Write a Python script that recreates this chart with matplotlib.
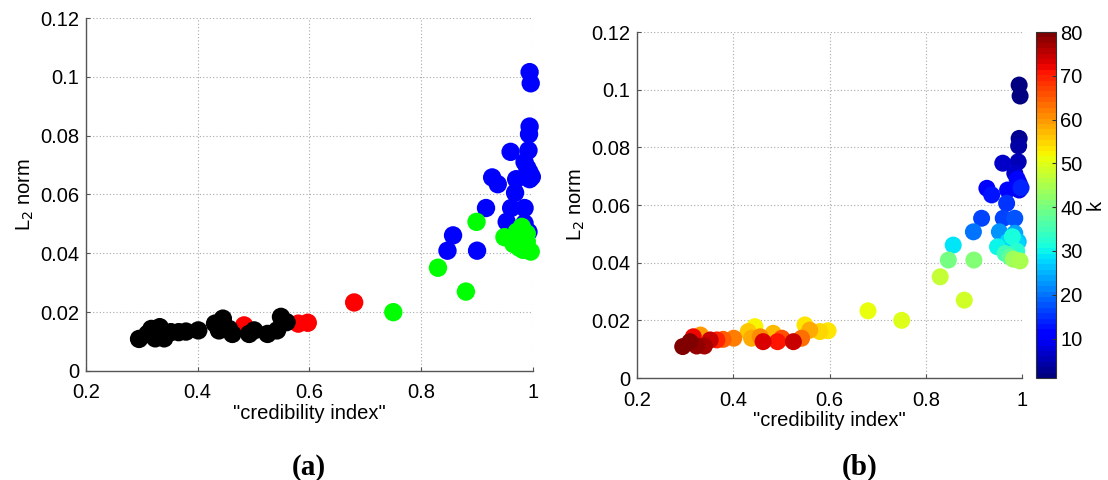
import numpy as np
import matplotlib
import matplotlib.pyplot as plt
from matplotlib.ticker import FuncFormatter

plt.rcParams['font.family'] = ['Liberation Sans', 'DejaVu Sans']

# number of clusters k, credibility index and L2 norm of each solution
k_vals = [1, 2, 3, 4, 5, 6, 7, 8, 9, 10, 11, 12, 13, 14, 15, 16, 17, 18,
          20, 22, 24, 26, 27, 28, 29, 30, 31, 33, 35, 37, 40, 41, 44, 45,
          47, 48, 50, 51, 52, 53, 54, 55, 56, 57, 58, 59, 60, 61, 62, 63,
          65, 66, 70, 71, 72, 73, 74, 75, 77, 78, 79, 80]
cred = [0.994, 0.996, 0.994, 0.993, 0.992, 0.960, 0.985, 0.994, 0.994, 0.927,
        0.990, 0.970, 0.937, 0.998, 0.968, 0.961, 0.916, 0.985,
        0.899, 0.953, 0.985, 0.992, 0.971, 0.989, 0.857, 0.949, 0.980, 0.989,
        0.965, 0.975, 0.847, 0.900, 0.982, 0.996,
        0.830, 0.880, 0.750, 0.680, 0.445, 0.549, 0.597, 0.580, 0.431, 0.483,
        0.559, 0.438, 0.332, 0.456, 0.401, 0.542,
        0.379, 0.501, 0.366, 0.492, 0.317, 0.462, 0.352, 0.525, 0.340, 0.324,
        0.310, 0.295]
l2 = [0.1016, 0.0978, 0.0831, 0.0805, 0.0750, 0.0745, 0.0710, 0.0675, 0.0652, 0.0658,
      0.0690, 0.0652, 0.0635, 0.0660, 0.0606, 0.0554, 0.0554, 0.0554,
      0.0507, 0.0507, 0.0502, 0.0473, 0.0473, 0.0467, 0.0461, 0.0455, 0.0490, 0.0440,
      0.0432, 0.0420, 0.0409, 0.0409, 0.0412, 0.0406,
      0.0351, 0.0270, 0.0200, 0.0233, 0.0178, 0.0184, 0.0164, 0.0161, 0.0161, 0.0155,
      0.0166, 0.0138, 0.0149, 0.0143, 0.0138, 0.0138,
      0.0134, 0.0138, 0.0132, 0.0126, 0.0143, 0.0126, 0.0132, 0.0126, 0.0111, 0.0111,
      0.0126, 0.0109]
# cluster label of each solution (0 black, 1 red, 2 green, 3 blue)
group = [3, 3, 3, 3, 3, 3, 3, 3, 3, 3, 3, 3, 3, 3, 3, 3, 3, 3,
         2, 3, 3, 3, 2, 2, 3, 2, 2, 2, 2, 2, 3, 3, 2, 2,
         2, 2, 2, 1, 0, 0, 1, 1, 0, 1, 0, 0, 0, 0, 0, 0,
         0, 0, 0, 0, 0, 0, 0, 0, 0, 0, 0, 0]
group_colors = ['#000000', '#ff0000', '#00ff00', '#0000ff']

xticks = [0.2, 0.4, 0.6, 0.8, 1.0]
yticks = [0, 0.02, 0.04, 0.06, 0.08, 0.1, 0.12]
cbar_ticks = [10, 20, 30, 40, 50, 60, 70, 80]

FS = 14.5

fig = plt.figure(figsize=(11.08, 4.8), dpi=100)
ax1 = fig.add_axes([0.0776, 0.2271, 0.4034, 0.7354])
ax2 = fig.add_axes([0.5749, 0.2125, 0.3475, 0.7208])
cax = fig.add_axes([0.9350, 0.2125, 0.0180, 0.7208])


def style_axes(ax):
    ax.set_xlim(0.2, 1.0)
    ax.set_ylim(0, 0.12)
    ax.set_xticks(xticks)
    ax.set_yticks(yticks)
    fmt = FuncFormatter(lambda v, p: '%g' % round(v, 3))
    ax.xaxis.set_major_formatter(fmt)
    ax.yaxis.set_major_formatter(fmt)
    ax.grid(True, linestyle=(0, (1, 2)), color='#a8a8a8', linewidth=0.8)
    ax.set_axisbelow(True)
    for side in ['top', 'right']:
        ax.spines[side].set_visible(False)
    for side in ['left', 'bottom']:
        ax.spines[side].set_color('#555555')
        ax.spines[side].set_linewidth(1.0)
    ax.tick_params(direction='in', length=3, color='#555555', labelsize=FS)
    ax.tick_params(axis='x', pad=9)
    ax.tick_params(axis='y', pad=5)
    ax.set_xlabel('"credibility index"', fontsize=FS, labelpad=1)
    ax.set_ylabel('L$_2$ norm', fontsize=FS, labelpad=3)


# (a) coloured by cluster
ax1.scatter(cred, l2, s=175, c=[group_colors[g] for g in group],
            linewidths=0, clip_on=False, zorder=3)
style_axes(ax1)

# (b) coloured by k
jet = matplotlib.colormaps['jet'].resampled(64)
sc = ax2.scatter(cred, l2, s=150, c=k_vals, cmap=jet, vmin=1, vmax=80,
                 linewidths=0, clip_on=False, zorder=3)
style_axes(ax2)

cb = fig.colorbar(sc, cax=cax, ticks=cbar_ticks)
cb.outline.set_edgecolor('#333333')
cb.ax.tick_params(labelsize=FS, direction='in', length=3, color='#333333', pad=3)
cb.set_label('k', fontsize=FS, labelpad=2)

fig.text(0.279, 0.012, '(a)', fontsize=21, fontweight='bold',
         family=['Liberation Serif', 'DejaVu Serif'], ha='center')
fig.text(0.776, 0.012, '(b)', fontsize=21, fontweight='bold',
         family=['Liberation Serif', 'DejaVu Serif'], ha='center')

fig.savefig('out.png', dpi=100)
